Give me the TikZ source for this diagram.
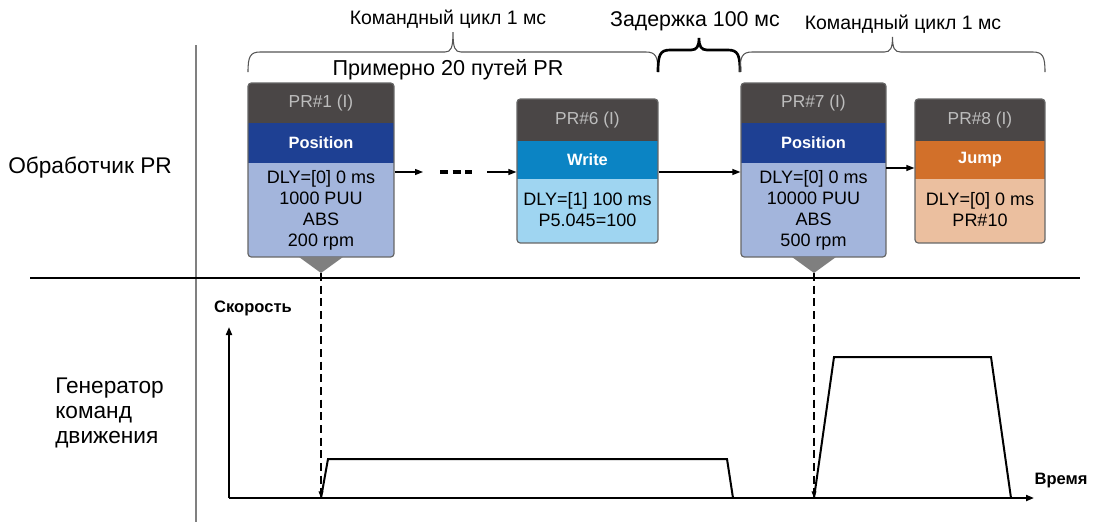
\documentclass[tikz,border=0pt]{standalone}
\usepackage{fontspec}
\setmainfont{Liberation Sans}
\usetikzlibrary{arrows.meta,fit,calc}
\definecolor{hdrcol}{HTML}{4A4646}
\definecolor{hdrtext}{HTML}{BDBDBD}
\definecolor{posband}{HTML}{1E4093}
\definecolor{posbody}{HTML}{A3B5DC}
\definecolor{wrband}{HTML}{0B84C4}
\definecolor{wrbody}{HTML}{9FD5F1}
\definecolor{jpband}{HTML}{D2702A}
\definecolor{jpbody}{HTML}{EBBF9F}
\definecolor{framecol}{HTML}{666666}
\definecolor{trigrey}{HTML}{7F7F7F}
\definecolor{bracegrey}{HTML}{555555}
\definecolor{sepgrey}{HTML}{808080}
\newcommand{\myfs}[2]{\fontsize{#1}{#2}\selectfont}
\newcommand{\prbox}[9]{%
  \begin{scope}
    \clip[rounded corners=2.5pt] (#2,#3) rectangle (#4,#5);
    \fill[hdrcol] (#2,#3) rectangle (#4,#6);
    \fill[#8] (#2,#6) rectangle (#4,#7);
    \fill[#9] (#2,#7) rectangle (#4,#5);
  \end{scope}
  \node[frame, fit={(#2,#3) (#4,#5)}] (#1) {};
}
\newcommand{\drawbrace}[6]{%
  \draw[#1] (#2,#6) .. controls (#2,{#4+5}) and ({#2+2},#4) .. ({#2+12},#4)
    -- ({(#2+#3)/2-8},#4) .. controls ({(#2+#3)/2-2},#4) and ({(#2+#3)/2},{#4-4}) .. ({(#2+#3)/2},#5)
    .. controls ({(#2+#3)/2},{#4-4}) and ({(#2+#3)/2+2},#4) .. ({(#2+#3)/2+8},#4)
    -- ({#3-12},#4) .. controls ({#3-2},#4) and (#3,{#4+5}) .. (#3,#6);}
\begin{document}
\begin{tikzpicture}[x=0.75pt,y=-0.75pt,
  frame/.style={draw=framecol, line width=0.9pt, rounded corners=2.5pt, inner sep=0pt},
  hdrtxt/.style={text=hdrtext, font=\myfs{13}{15}},
  bandtxt/.style={text=white, font=\bfseries\myfs{12.3}{14}},
  bodytxt/.style={align=center, font=\myfs{13.5}{15.75}, inner sep=0pt},
  conn/.style={line width=0.9pt, -{Triangle[length=6pt,width=4.5pt]}},
  dotline/.style={line width=2.4pt, dash pattern=on 6pt off 3.5pt},
  axisline/.style={line width=1.4pt},
  dasharrow/.style={line width=1pt, dash pattern=on 6pt off 3.5pt, -{Triangle[length=5pt,width=3.5pt]}},
  trap/.style={line width=1.5pt, line join=miter},
  lbl/.style={font=\myfs{17}{18.75}, inner sep=0pt},
  toplbl/.style={font=\myfs{14.6}{16}, inner sep=0pt},
  axlbl/.style={font=\bfseries\myfs{12.4}{14}, inner sep=0pt}
]
\useasboundingbox (0,0) rectangle (1095,522);

% separators
\draw[sepgrey, line width=1pt] (196,45) -- (196,522);
\draw[black, line width=0.8pt] (30,278) -- (1080,278);

% left labels
\node[lbl] (lproc) at (90,168) {Обработчик PR};
\node[lbl, anchor=west, align=left] (lgen) at (55,413) {Генератор\\команд\\движения};

% top labels and braces
\node[toplbl] (cyc1) at (448,19) {Командный цикл 1 мс};
\node[toplbl, font=\myfs{16}{18}] (delay) at (695,21) {Задержка 100 мс};
\node[toplbl] (cyc2) at (903,24) {Командный цикл 1 мс};
\node[font=\myfs{16.2}{18}, inner sep=0pt] (approx) at (448,70) {Примерно 20 путей PR};
\drawbrace{bracegrey, line width=0.8pt}{248}{658}{52}{32}{72}
\drawbrace{black, line width=2pt}{658}{740}{50}{38}{72}
\drawbrace{bracegrey, line width=0.8pt}{740}{1045}{52}{37}{72}

% PR boxes
\prbox{pr1}{248}{83}{394}{257}{123}{163}{posband}{posbody}
\node[hdrtxt] (pr1h) at (321,103) {PR\#1 (I)};
\node[bandtxt] (pr1m) at (321,143) {Position};
\node[bodytxt] (pr1b) at (321,210) {DLY=[0] 0 ms\\1000 PUU\\ABS\\200 rpm};

\prbox{pr6}{517}{99}{658}{243}{141}{179}{wrband}{wrbody}
\node[hdrtxt] (pr6h) at (587.5,120) {PR\#6 (I)};
\node[bandtxt] (pr6m) at (587.5,160) {Write};
\node[bodytxt] (pr6b) at (587.5,210) {DLY=[1] 100 ms\\P5.045=100};

\prbox{pr7}{741}{83}{886}{257}{123}{163}{posband}{posbody}
\node[hdrtxt] (pr7h) at (813.5,103) {PR\#7 (I)};
\node[bandtxt] (pr7m) at (813.5,143) {Position};
\node[bodytxt] (pr7b) at (813.5,210) {DLY=[0] 0 ms\\10000 PUU\\ABS\\500 rpm};

\prbox{pr8}{915}{99}{1045}{243}{141}{179}{jpband}{jpbody}
\node[hdrtxt] (pr8h) at (980,120) {PR\#8 (I)};
\node[bandtxt] (pr8m) at (980,160) {Jump};
\node[bodytxt] (pr8b) at (980,210) {DLY=[0] 0 ms\\PR\#10};

% connectors between boxes
\coordinate (d1) at (423,172);
\coordinate (d2) at (487,172);
\draw[conn] (pr1.east |- d1) -- (d1);
\draw[dotline] (440,172) -- (472,172);
\draw[conn] (d2) -- (d2 -| pr6.west);
\draw[conn] (pr6.east |- d1) -- (d1 -| pr7.west);
\coordinate (d3) at (886,168);
\draw[conn] (d3) -- (d3 -| pr8.west);

% triangles under boxes
\fill[trigrey] (299,257) -- (343,257) -- (321,273) -- cycle;
\fill[trigrey] (792,257) -- (836,257) -- (814,273) -- cycle;
\coordinate (t1) at (321,273);
\coordinate (t2) at (814,273);

% velocity graph
\coordinate (o) at (229,498);
\coordinate (ytip) at (229,327);
\coordinate (xtip) at (1034,498);
\draw[axisline, -{Triangle[length=6pt,width=4.5pt]}] (o) -- (ytip);
\draw[axisline, -{Triangle[length=6pt,width=4.5pt]}] (o) -- (xtip);
\node[axlbl] (vlab) at (253,308) {Скорость};
\node[axlbl] (tlab) at (1061,481) {Время};

\coordinate (g1) at (321,498);
\coordinate (g2) at (814,498);
\draw[dasharrow] (t1) -- (g1);
\draw[dasharrow] (t2) -- (g2);

\draw[trap] (g1) -- (328,459) -- (727,459) -- (733,498);
\draw[trap] (g2) -- (834,357) -- (991,357) -- (1011,498);
\end{tikzpicture}
\end{document}
